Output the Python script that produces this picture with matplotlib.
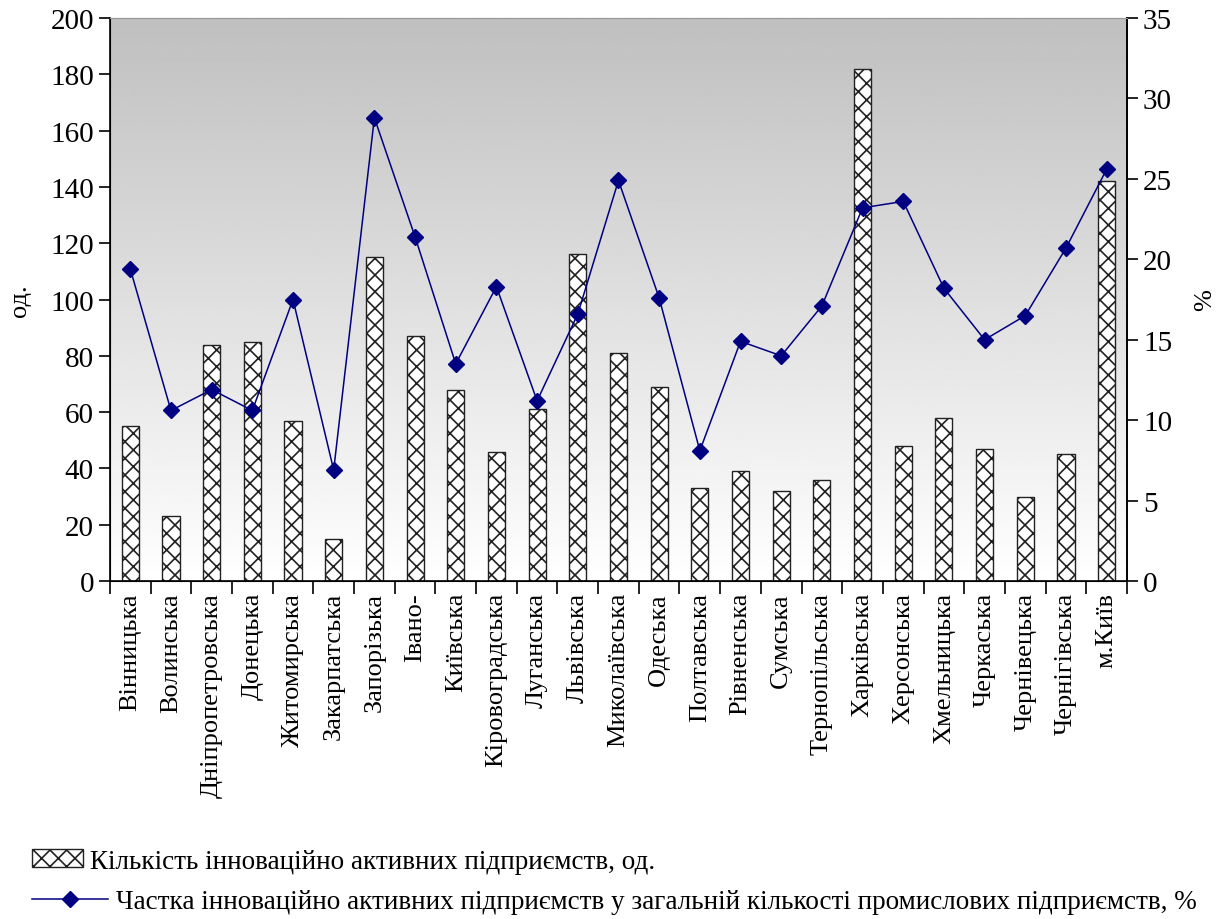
import numpy as np
import matplotlib.pyplot as plt
import matplotlib.patches as mpatches
import matplotlib.lines as mlines

plt.rcParams["font.family"] = ["Liberation Serif", "DejaVu Serif"]
plt.rcParams["hatch.linewidth"] = 1.2

# ---------------------------------------------------------------------------
# Data
# ---------------------------------------------------------------------------
regions = [
    "Вінницька", "Волинська", "Дніпропетровська", "Донецька", "Житомирська",
    "Закарпатська", "Запорізька", "Івано-", "Київська", "Кіровоградська",
    "Луганська", "Львівська", "Миколаївська", "Одеська", "Полтавська",
    "Рівненська", "Сумська", "Тернопільська", "Харківська", "Херсонська",
    "Хмельницька", "Черкаська", "Чернівецька", "Чернігівська", "м.Київ",
]
active_count = [55, 23, 84, 85, 57, 15, 115, 87, 68, 46,
                61, 116, 81, 69, 33, 39, 32, 36, 182, 48,
                58, 47, 30, 45, 142]
active_share = [19.4, 10.6, 11.9, 10.6, 17.5, 6.9, 28.8, 21.4, 13.5, 18.3,
                11.2, 16.6, 24.9, 17.6, 8.1, 14.9, 14.0, 17.1, 23.2, 23.6,
                18.2, 15.0, 16.5, 20.7, 25.6]

label_bars = "Кількість інноваційно активних підприємств, од."
label_line = ("Частка інноваційно активних підприємств у загальній кількості "
              "промислових підприємств, %")

NAVY = "#000080"

# ---------------------------------------------------------------------------
# Plot
# ---------------------------------------------------------------------------
fig = plt.figure(figsize=(12.27, 9.2), dpi=100)
ax = fig.add_axes([0.0896, 0.3674, 0.8289, 0.6119])

x = np.arange(len(regions))
ax.set_xlim(-0.5, len(regions) - 0.5)
ax.set_ylim(0, 200)

# grey at the top fading to white at the bottom
grad = np.linspace(0.75, 1.0, 256).reshape(-1, 1)
ax.imshow(grad, extent=(0, 1, 0, 1), origin="upper", transform=ax.transAxes,
          cmap="gray", vmin=0, vmax=1, aspect="auto", zorder=0)

ax.bar(x, active_count, width=0.42, color="white", edgecolor="#222222",
       hatch="xx", linewidth=1.0, zorder=2)

ax.set_yticks(np.arange(0, 201, 20))
ax.set_ylabel("од.", fontsize=19, labelpad=14)
ax.tick_params(axis="y", labelsize=21, direction="out", length=8, width=1.2)

ax.set_xticks(x)
ax.set_xticklabels(regions, rotation=90, fontsize=19)
ax.set_xticks(np.arange(-0.5, len(regions), 1), minor=True)
ax.tick_params(axis="x", which="major", length=0, pad=8)
ax.tick_params(axis="x", which="minor", length=9, width=1.2, direction="out")

for side in ("left", "bottom", "right"):
    ax.spines[side].set_linewidth(1.2)
ax.spines["top"].set_color("#999999")

ax2 = ax.twinx()
ax2.set_ylim(0, 35)
ax2.plot(x, active_share, color=NAVY, linewidth=1.1, marker="D",
         markersize=8.5, zorder=3)
ax2.set_yticks(np.arange(0, 36, 5))
ax2.tick_params(axis="y", labelsize=21, direction="out", length=8, width=1.2)
ax2.set_ylabel("%", fontsize=19, labelpad=16)
ax2.spines["right"].set_linewidth(1.2)
ax2.spines["top"].set_color("#999999")

# two legend rows with different handle lengths
bar_handle = mpatches.Patch(facecolor="white", edgecolor="#222222", hatch="xx",
                            label=label_bars)
line_handle = mlines.Line2D([], [], color=NAVY, linewidth=1.1, marker="D",
                            markersize=8, label=label_line)
fig.legend(handles=[bar_handle], loc="center left",
           bbox_to_anchor=(0.026, 0.063), frameon=False, fontsize=19.5,
           handlelength=1.9, handleheight=0.6, handletextpad=0.25,
           borderaxespad=0, borderpad=0)
fig.legend(handles=[line_handle], loc="center left",
           bbox_to_anchor=(0.026, 0.019), frameon=False, fontsize=19.5,
           handlelength=2.8, handletextpad=0.3, borderaxespad=0, borderpad=0)

fig.savefig("out.png", dpi=100)
plt.close(fig)
